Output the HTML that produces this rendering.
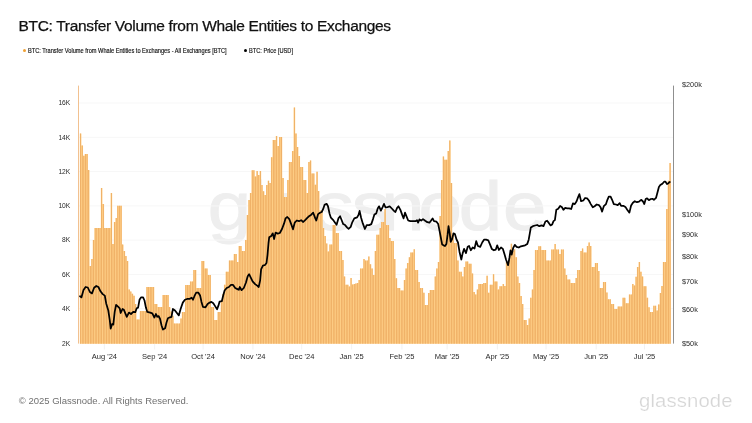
<!DOCTYPE html>
<html lang="en">
<head>
<meta charset="utf-8">
<title>BTC: Transfer Volume from Whale Entities to Exchanges</title>
<style>
html,body{margin:0;padding:0;background:#fff;}
body{width:752px;height:423px;position:relative;overflow:hidden;font-family:"Liberation Sans",sans-serif;}
.chart{position:absolute;left:0;top:0;}
.chart text{font-family:"Liberation Sans",sans-serif;}
.title{position:absolute;left:18.6px;top:15.8px;font-size:15.5px;line-height:20px;color:#111;white-space:nowrap;margin:0;font-weight:normal;letter-spacing:-0.325px;-webkit-text-stroke:0.25px #111;}
.legend{position:absolute;left:0;top:45.7px;height:10px;font-size:6.4px;line-height:10px;color:#111;white-space:nowrap;-webkit-text-stroke:0.15px #111;}
.legend span.item{position:absolute;top:0;transform:scaleX(0.885);transform-origin:0 0;}
.legend i{position:absolute;width:3.6px;height:3.6px;border-radius:50%;top:3.1px;}
.foot{position:absolute;left:18.8px;top:394.2px;font-size:9.5px;line-height:14px;color:#707070;white-space:nowrap;}
.logo{position:absolute;left:639.3px;top:387px;font-size:17.6px;line-height:28px;color:#d6d6d6;-webkit-text-stroke:0.2px #fff;letter-spacing:0.1px;white-space:nowrap;transform:scaleX(1.155);transform-origin:0 0;}
</style>
</head>
<body>
<svg class="chart" width="752" height="423" viewBox="0 0 752 423">
<text class="wm" transform="translate(207.8,230.2) scale(1.13,1)" x="0 36.5 51.5 95 127.3 153.6 186.5 222.1 261.2" y="0" font-size="69" fill="#eeeeee" stroke="#eeeeee" stroke-width="1">glassnode</text>
<g class="grid" stroke="#f7f7f7" stroke-width="1">
<line x1="78" x2="673" y1="103.0" y2="103.0"/>
<line x1="78" x2="673" y1="137.3" y2="137.3"/>
<line x1="78" x2="673" y1="171.6" y2="171.6"/>
<line x1="78" x2="673" y1="205.9" y2="205.9"/>
<line x1="78" x2="673" y1="240.1" y2="240.1"/>
<line x1="78" x2="673" y1="274.4" y2="274.4"/>
<line x1="78" x2="673" y1="308.7" y2="308.7"/>
</g>
<path class="bars-base" fill="#ffd088" d="M79.79 343.8V133.5H81.41V145.5H83.03V155.7H84.65V154.0H86.27V154.0H87.89V170.0H89.51V266.0H91.13V259.0H92.75V240.0H94.37V228.0H95.99V228.0H97.60V228.0H99.22V228.0H100.84V188.0H102.46V204.0H104.08V228.0H105.70V228.0H107.32V228.0H108.94V228.0H110.56V193.0H112.18V244.0H113.80V222.0H115.42V218.0H117.04V205.7H118.66V205.7H120.28V205.7H121.90V244.5H123.52V251.0H125.14V256.0H126.76V261.0H128.38V289.6H129.99V291.6H131.61V293.7H133.23V295.7H134.85V304.0H136.47V319.6H138.09V319.6H139.71V311.0H141.33V311.0H142.95V311.0H144.57V311.0H146.19V287.0H147.81V287.0H149.43V287.0H151.05V287.0H152.67V287.0H154.29V304.0H155.91V304.0H157.53V307.0H159.15V307.0H160.77V307.0H162.38V295.0H164.00V295.0H165.62V295.0H167.24V295.0H168.86V307.1H170.48V311.4H172.10V315.7H173.72V323.4H175.34V323.4H176.96V323.4H178.58V323.4H180.20V318.6H181.82V312.0H183.44V312.0H185.06V285.0H186.68V285.0H188.30V285.0H189.92V281.4H191.54V281.4H193.16V270.0H194.77V270.0H196.39V288.0H198.01V288.0H199.63V288.0H201.25V261.0H202.87V261.0H204.49V268.6H206.11V268.6H207.73V275.0H209.35V275.0H210.97V307.0H212.59V307.0H214.21V320.0H215.83V320.0H217.45V312.0H219.07V312.0H220.69V300.6H222.31V294.0H223.93V284.7H225.55V271.8H227.16V271.8H228.78V260.5H230.40V260.5H232.02V260.5H233.64V254.0H235.26V254.0H236.88V262.0H238.50V246.0H240.12V246.0H241.74V251.0H243.36V251.0H244.98V240.0H246.60V215.0H248.22V200.0H249.84V193.0H251.46V170.2H253.08V170.2H254.70V176.6H256.32V171.0H257.94V175.0H259.55V171.0H261.17V184.9H262.79V191.2H264.41V195.0H266.03V184.9H267.65V180.8H269.27V183.0H270.89V157.3H272.51V140.0H274.13V140.0H275.75V136.0H277.37V146.0H278.99V137.0H280.61V137.0H282.23V178.0H283.85V197.0H285.47V197.0H287.09V180.0H288.71V162.0H290.33V162.0H291.94V151.0H293.56V107.4H295.18V133.4H296.80V147.0H298.42V156.0H300.04V167.0H301.66V167.0H303.28V180.0H304.90V180.0H306.52V193.0H308.14V162.0H309.76V160.5H311.38V173.4H313.00V173.4H314.62V184.7H316.24V171.8H317.86V191.0H319.48V210.5H321.10V210.5H322.72V228.0H324.33V236.0H325.95V243.4H327.57V251.4H329.19V244.5H330.81V244.5H332.43V225.0H334.05V225.0H335.67V233.0H337.29V233.0H338.91V251.0H340.53V251.0H342.15V260.0H343.77V276.6H345.39V284.7H347.01V284.7H348.63V286.4H350.25V278.0H351.87V284.5H353.49V284.0H355.11V283.6H356.72V283.1H358.34V280.0H359.96V268.6H361.58V268.6H363.20V259.0H364.82V260.5H366.44V260.5H368.06V256.5H369.68V264.3H371.30V268.5H372.92V275.0H374.54V251.0H376.16V234.7H377.78V234.7H379.40V228.0H381.02V222.0H382.64V222.0H384.26V209.0H385.88V225.0H387.50V225.0H389.11V238.0H390.73V241.0H392.35V241.0H393.97V259.0H395.59V278.2H397.21V288.0H398.83V288.0H400.45V290.4H402.07V290.4H403.69V280.0H405.31V268.5H406.93V262.9H408.55V257.3H410.17V252.5H411.79V252.5H413.41V249.3H415.03V270.0H416.65V270.0H418.27V282.0H419.89V288.0H421.50V288.0H423.12V292.8H424.74V305.0H426.36V305.0H427.98V293.0H429.60V290.0H431.22V290.0H432.84V290.0H434.46V276.6H436.08V268.6H437.70V262.0H439.32V216.0H440.94V180.0H442.56V156.5H444.18V159.7H445.80V159.7H447.42V151.0H449.04V140.5H450.66V183.0H452.28V235.0H453.89V243.0H455.51V243.0H457.13V260.5H458.75V271.8H460.37V271.8H461.99V276.6H463.61V267.0H465.23V261.4H466.85V261.4H468.47V263.8H470.09V263.8H471.71V273.4H473.33V292.1H474.95V294.4H476.57V289.5H478.19V284.0H479.81V284.0H481.43V284.0H483.05V283.0H484.67V283.0H486.28V275.8H487.90V292.7H489.52V284.7H491.14V284.7H492.76V274.2H494.38V281.4H496.00V281.4H497.62V289.5H499.24V286.3H500.86V286.3H502.48V284.0H504.10V286.0H505.72V262.0H507.34V262.0H508.96V254.0H510.58V243.7H512.20V251.0H513.82V249.3H515.44V257.3H517.06V276.6H518.67V283.0H520.29V296.0H521.91V304.0H523.53V320.0H525.15V320.0H526.77V325.0H528.39V318.6H530.01V297.7H531.63V289.5H533.25V270.0H534.87V250.0H536.49V250.0H538.11V246.3H539.73V246.3H541.35V250.0H542.97V250.0H544.59V250.0H546.21V260.5H547.83V260.5H549.45V260.5H551.06V249.5H552.68V249.5H554.30V244.0H555.92V249.5H557.54V249.5H559.16V254.0H560.78V249.5H562.40V249.5H564.02V268.6H565.64V275.0H567.26V279.5H568.88V279.5H570.50V283.0H572.12V283.0H573.74V283.0H575.36V278.0H576.98V270.0H578.60V270.0H580.22V251.0H581.84V248.5H583.45V252.5H585.07V252.5H586.69V246.0H588.31V242.5H589.93V246.0H591.55V267.0H593.17V267.0H594.79V263.0H596.41V263.0H598.03V271.0H599.65V288.0H601.27V288.0H602.89V282.0H604.51V282.0H606.13V292.6H607.75V299.3H609.37V299.3H610.99V304.0H612.61V304.0H614.23V309.0H615.84V309.0H617.46V306.5H619.08V306.5H620.70V306.5H622.32V297.7H623.94V297.7H625.56V303.3H627.18V303.3H628.80V294.4H630.42V294.4H632.04V284.0H633.66V285.5H635.28V276.7H636.90V267.0H638.52V262.0H640.14V271.8H641.76V276.6H643.38V286.3H645.00V286.3H646.62V297.7H648.23V307.3H649.85V312.0H651.47V312.0H653.09V305.7H654.71V305.7H656.33V310.6H657.95V304.5H659.57V293.0H661.19V286.0H662.81V262.0H664.43V262.0H666.05V209.0H667.67V180.7H669.29V163.0H670.91V343.8z"/>
<path class="bars" fill="#eaa55b" d="M80.25 343.8V133.5h0.70V343.8zM81.87 343.8V145.5h0.70V343.8zM83.49 343.8V155.7h0.70V343.8zM85.11 343.8V154.0h0.70V343.8zM86.73 343.8V154.0h0.70V343.8zM88.35 343.8V170.0h0.70V343.8zM89.97 343.8V266.0h0.70V343.8zM91.59 343.8V259.0h0.70V343.8zM93.21 343.8V240.0h0.70V343.8zM94.83 343.8V228.0h0.70V343.8zM96.44 343.8V228.0h0.70V343.8zM98.06 343.8V228.0h0.70V343.8zM99.68 343.8V228.0h0.70V343.8zM101.30 343.8V188.0h0.70V343.8zM102.92 343.8V204.0h0.70V343.8zM104.54 343.8V228.0h0.70V343.8zM106.16 343.8V228.0h0.70V343.8zM107.78 343.8V228.0h0.70V343.8zM109.40 343.8V228.0h0.70V343.8zM111.02 343.8V193.0h0.70V343.8zM112.64 343.8V244.0h0.70V343.8zM114.26 343.8V222.0h0.70V343.8zM115.88 343.8V218.0h0.70V343.8zM117.50 343.8V205.7h0.70V343.8zM119.12 343.8V205.7h0.70V343.8zM120.74 343.8V205.7h0.70V343.8zM122.36 343.8V244.5h0.70V343.8zM123.98 343.8V251.0h0.70V343.8zM125.60 343.8V256.0h0.70V343.8zM127.22 343.8V261.0h0.70V343.8zM128.84 343.8V289.6h0.70V343.8zM130.45 343.8V291.6h0.70V343.8zM132.07 343.8V293.7h0.70V343.8zM133.69 343.8V295.7h0.70V343.8zM135.31 343.8V304.0h0.70V343.8zM136.93 343.8V319.6h0.70V343.8zM138.55 343.8V319.6h0.70V343.8zM140.17 343.8V311.0h0.70V343.8zM141.79 343.8V311.0h0.70V343.8zM143.41 343.8V311.0h0.70V343.8zM145.03 343.8V311.0h0.70V343.8zM146.65 343.8V287.0h0.70V343.8zM148.27 343.8V287.0h0.70V343.8zM149.89 343.8V287.0h0.70V343.8zM151.51 343.8V287.0h0.70V343.8zM153.13 343.8V287.0h0.70V343.8zM154.75 343.8V304.0h0.70V343.8zM156.37 343.8V304.0h0.70V343.8zM157.99 343.8V307.0h0.70V343.8zM159.61 343.8V307.0h0.70V343.8zM161.22 343.8V307.0h0.70V343.8zM162.84 343.8V295.0h0.70V343.8zM164.46 343.8V295.0h0.70V343.8zM166.08 343.8V295.0h0.70V343.8zM167.70 343.8V295.0h0.70V343.8zM169.32 343.8V307.1h0.70V343.8zM170.94 343.8V311.4h0.70V343.8zM172.56 343.8V315.7h0.70V343.8zM174.18 343.8V323.4h0.70V343.8zM175.80 343.8V323.4h0.70V343.8zM177.42 343.8V323.4h0.70V343.8zM179.04 343.8V323.4h0.70V343.8zM180.66 343.8V318.6h0.70V343.8zM182.28 343.8V312.0h0.70V343.8zM183.90 343.8V312.0h0.70V343.8zM185.52 343.8V285.0h0.70V343.8zM187.14 343.8V285.0h0.70V343.8zM188.76 343.8V285.0h0.70V343.8zM190.38 343.8V281.4h0.70V343.8zM192.00 343.8V281.4h0.70V343.8zM193.61 343.8V270.0h0.70V343.8zM195.23 343.8V270.0h0.70V343.8zM196.85 343.8V288.0h0.70V343.8zM198.47 343.8V288.0h0.70V343.8zM200.09 343.8V288.0h0.70V343.8zM201.71 343.8V261.0h0.70V343.8zM203.33 343.8V261.0h0.70V343.8zM204.95 343.8V268.6h0.70V343.8zM206.57 343.8V268.6h0.70V343.8zM208.19 343.8V275.0h0.70V343.8zM209.81 343.8V275.0h0.70V343.8zM211.43 343.8V307.0h0.70V343.8zM213.05 343.8V307.0h0.70V343.8zM214.67 343.8V320.0h0.70V343.8zM216.29 343.8V320.0h0.70V343.8zM217.91 343.8V312.0h0.70V343.8zM219.53 343.8V312.0h0.70V343.8zM221.15 343.8V300.6h0.70V343.8zM222.77 343.8V294.0h0.70V343.8zM224.39 343.8V284.7h0.70V343.8zM226.00 343.8V271.8h0.70V343.8zM227.62 343.8V271.8h0.70V343.8zM229.24 343.8V260.5h0.70V343.8zM230.86 343.8V260.5h0.70V343.8zM232.48 343.8V260.5h0.70V343.8zM234.10 343.8V254.0h0.70V343.8zM235.72 343.8V254.0h0.70V343.8zM237.34 343.8V262.0h0.70V343.8zM238.96 343.8V246.0h0.70V343.8zM240.58 343.8V246.0h0.70V343.8zM242.20 343.8V251.0h0.70V343.8zM243.82 343.8V251.0h0.70V343.8zM245.44 343.8V240.0h0.70V343.8zM247.06 343.8V215.0h0.70V343.8zM248.68 343.8V200.0h0.70V343.8zM250.30 343.8V193.0h0.70V343.8zM251.92 343.8V170.2h0.70V343.8zM253.54 343.8V170.2h0.70V343.8zM255.16 343.8V176.6h0.70V343.8zM256.78 343.8V171.0h0.70V343.8zM258.39 343.8V175.0h0.70V343.8zM260.01 343.8V171.0h0.70V343.8zM261.63 343.8V184.9h0.70V343.8zM263.25 343.8V191.2h0.70V343.8zM264.87 343.8V195.0h0.70V343.8zM266.49 343.8V184.9h0.70V343.8zM268.11 343.8V180.8h0.70V343.8zM269.73 343.8V183.0h0.70V343.8zM271.35 343.8V157.3h0.70V343.8zM272.97 343.8V140.0h0.70V343.8zM274.59 343.8V140.0h0.70V343.8zM276.21 343.8V136.0h0.70V343.8zM277.83 343.8V146.0h0.70V343.8zM279.45 343.8V137.0h0.70V343.8zM281.07 343.8V137.0h0.70V343.8zM282.69 343.8V178.0h0.70V343.8zM284.31 343.8V197.0h0.70V343.8zM285.93 343.8V197.0h0.70V343.8zM287.55 343.8V180.0h0.70V343.8zM289.17 343.8V162.0h0.70V343.8zM290.78 343.8V162.0h0.70V343.8zM292.40 343.8V151.0h0.70V343.8zM294.02 343.8V107.4h0.70V343.8zM295.64 343.8V133.4h0.70V343.8zM297.26 343.8V147.0h0.70V343.8zM298.88 343.8V156.0h0.70V343.8zM300.50 343.8V167.0h0.70V343.8zM302.12 343.8V167.0h0.70V343.8zM303.74 343.8V180.0h0.70V343.8zM305.36 343.8V180.0h0.70V343.8zM306.98 343.8V193.0h0.70V343.8zM308.60 343.8V162.0h0.70V343.8zM310.22 343.8V160.5h0.70V343.8zM311.84 343.8V173.4h0.70V343.8zM313.46 343.8V173.4h0.70V343.8zM315.08 343.8V184.7h0.70V343.8zM316.70 343.8V171.8h0.70V343.8zM318.32 343.8V191.0h0.70V343.8zM319.94 343.8V210.5h0.70V343.8zM321.56 343.8V210.5h0.70V343.8zM323.17 343.8V228.0h0.70V343.8zM324.79 343.8V236.0h0.70V343.8zM326.41 343.8V243.4h0.70V343.8zM328.03 343.8V251.4h0.70V343.8zM329.65 343.8V244.5h0.70V343.8zM331.27 343.8V244.5h0.70V343.8zM332.89 343.8V225.0h0.70V343.8zM334.51 343.8V225.0h0.70V343.8zM336.13 343.8V233.0h0.70V343.8zM337.75 343.8V233.0h0.70V343.8zM339.37 343.8V251.0h0.70V343.8zM340.99 343.8V251.0h0.70V343.8zM342.61 343.8V260.0h0.70V343.8zM344.23 343.8V276.6h0.70V343.8zM345.85 343.8V284.7h0.70V343.8zM347.47 343.8V284.7h0.70V343.8zM349.09 343.8V286.4h0.70V343.8zM350.71 343.8V278.0h0.70V343.8zM352.33 343.8V284.5h0.70V343.8zM353.95 343.8V284.0h0.70V343.8zM355.56 343.8V283.6h0.70V343.8zM357.18 343.8V283.1h0.70V343.8zM358.80 343.8V280.0h0.70V343.8zM360.42 343.8V268.6h0.70V343.8zM362.04 343.8V268.6h0.70V343.8zM363.66 343.8V259.0h0.70V343.8zM365.28 343.8V260.5h0.70V343.8zM366.90 343.8V260.5h0.70V343.8zM368.52 343.8V256.5h0.70V343.8zM370.14 343.8V264.3h0.70V343.8zM371.76 343.8V268.5h0.70V343.8zM373.38 343.8V275.0h0.70V343.8zM375.00 343.8V251.0h0.70V343.8zM376.62 343.8V234.7h0.70V343.8zM378.24 343.8V234.7h0.70V343.8zM379.86 343.8V228.0h0.70V343.8zM381.48 343.8V222.0h0.70V343.8zM383.10 343.8V222.0h0.70V343.8zM384.72 343.8V209.0h0.70V343.8zM386.34 343.8V225.0h0.70V343.8zM387.95 343.8V225.0h0.70V343.8zM389.57 343.8V238.0h0.70V343.8zM391.19 343.8V241.0h0.70V343.8zM392.81 343.8V241.0h0.70V343.8zM394.43 343.8V259.0h0.70V343.8zM396.05 343.8V278.2h0.70V343.8zM397.67 343.8V288.0h0.70V343.8zM399.29 343.8V288.0h0.70V343.8zM400.91 343.8V290.4h0.70V343.8zM402.53 343.8V290.4h0.70V343.8zM404.15 343.8V280.0h0.70V343.8zM405.77 343.8V268.5h0.70V343.8zM407.39 343.8V262.9h0.70V343.8zM409.01 343.8V257.3h0.70V343.8zM410.63 343.8V252.5h0.70V343.8zM412.25 343.8V252.5h0.70V343.8zM413.87 343.8V249.3h0.70V343.8zM415.49 343.8V270.0h0.70V343.8zM417.11 343.8V270.0h0.70V343.8zM418.73 343.8V282.0h0.70V343.8zM420.34 343.8V288.0h0.70V343.8zM421.96 343.8V288.0h0.70V343.8zM423.58 343.8V292.8h0.70V343.8zM425.20 343.8V305.0h0.70V343.8zM426.82 343.8V305.0h0.70V343.8zM428.44 343.8V293.0h0.70V343.8zM430.06 343.8V290.0h0.70V343.8zM431.68 343.8V290.0h0.70V343.8zM433.30 343.8V290.0h0.70V343.8zM434.92 343.8V276.6h0.70V343.8zM436.54 343.8V268.6h0.70V343.8zM438.16 343.8V262.0h0.70V343.8zM439.78 343.8V216.0h0.70V343.8zM441.40 343.8V180.0h0.70V343.8zM443.02 343.8V156.5h0.70V343.8zM444.64 343.8V159.7h0.70V343.8zM446.26 343.8V159.7h0.70V343.8zM447.88 343.8V151.0h0.70V343.8zM449.50 343.8V140.5h0.70V343.8zM451.12 343.8V183.0h0.70V343.8zM452.74 343.8V235.0h0.70V343.8zM454.35 343.8V243.0h0.70V343.8zM455.97 343.8V243.0h0.70V343.8zM457.59 343.8V260.5h0.70V343.8zM459.21 343.8V271.8h0.70V343.8zM460.83 343.8V271.8h0.70V343.8zM462.45 343.8V276.6h0.70V343.8zM464.07 343.8V267.0h0.70V343.8zM465.69 343.8V261.4h0.70V343.8zM467.31 343.8V261.4h0.70V343.8zM468.93 343.8V263.8h0.70V343.8zM470.55 343.8V263.8h0.70V343.8zM472.17 343.8V273.4h0.70V343.8zM473.79 343.8V292.1h0.70V343.8zM475.41 343.8V294.4h0.70V343.8zM477.03 343.8V289.5h0.70V343.8zM478.65 343.8V284.0h0.70V343.8zM480.27 343.8V284.0h0.70V343.8zM481.89 343.8V284.0h0.70V343.8zM483.51 343.8V283.0h0.70V343.8zM485.12 343.8V283.0h0.70V343.8zM486.74 343.8V275.8h0.70V343.8zM488.36 343.8V292.7h0.70V343.8zM489.98 343.8V284.7h0.70V343.8zM491.60 343.8V284.7h0.70V343.8zM493.22 343.8V274.2h0.70V343.8zM494.84 343.8V281.4h0.70V343.8zM496.46 343.8V281.4h0.70V343.8zM498.08 343.8V289.5h0.70V343.8zM499.70 343.8V286.3h0.70V343.8zM501.32 343.8V286.3h0.70V343.8zM502.94 343.8V284.0h0.70V343.8zM504.56 343.8V286.0h0.70V343.8zM506.18 343.8V262.0h0.70V343.8zM507.80 343.8V262.0h0.70V343.8zM509.42 343.8V254.0h0.70V343.8zM511.04 343.8V243.7h0.70V343.8zM512.66 343.8V251.0h0.70V343.8zM514.28 343.8V249.3h0.70V343.8zM515.90 343.8V257.3h0.70V343.8zM517.51 343.8V276.6h0.70V343.8zM519.13 343.8V283.0h0.70V343.8zM520.75 343.8V296.0h0.70V343.8zM522.37 343.8V304.0h0.70V343.8zM523.99 343.8V320.0h0.70V343.8zM525.61 343.8V320.0h0.70V343.8zM527.23 343.8V325.0h0.70V343.8zM528.85 343.8V318.6h0.70V343.8zM530.47 343.8V297.7h0.70V343.8zM532.09 343.8V289.5h0.70V343.8zM533.71 343.8V270.0h0.70V343.8zM535.33 343.8V250.0h0.70V343.8zM536.95 343.8V250.0h0.70V343.8zM538.57 343.8V246.3h0.70V343.8zM540.19 343.8V246.3h0.70V343.8zM541.81 343.8V250.0h0.70V343.8zM543.43 343.8V250.0h0.70V343.8zM545.05 343.8V250.0h0.70V343.8zM546.67 343.8V260.5h0.70V343.8zM548.29 343.8V260.5h0.70V343.8zM549.90 343.8V260.5h0.70V343.8zM551.52 343.8V249.5h0.70V343.8zM553.14 343.8V249.5h0.70V343.8zM554.76 343.8V244.0h0.70V343.8zM556.38 343.8V249.5h0.70V343.8zM558.00 343.8V249.5h0.70V343.8zM559.62 343.8V254.0h0.70V343.8zM561.24 343.8V249.5h0.70V343.8zM562.86 343.8V249.5h0.70V343.8zM564.48 343.8V268.6h0.70V343.8zM566.10 343.8V275.0h0.70V343.8zM567.72 343.8V279.5h0.70V343.8zM569.34 343.8V279.5h0.70V343.8zM570.96 343.8V283.0h0.70V343.8zM572.58 343.8V283.0h0.70V343.8zM574.20 343.8V283.0h0.70V343.8zM575.82 343.8V278.0h0.70V343.8zM577.44 343.8V270.0h0.70V343.8zM579.06 343.8V270.0h0.70V343.8zM580.68 343.8V251.0h0.70V343.8zM582.29 343.8V248.5h0.70V343.8zM583.91 343.8V252.5h0.70V343.8zM585.53 343.8V252.5h0.70V343.8zM587.15 343.8V246.0h0.70V343.8zM588.77 343.8V242.5h0.70V343.8zM590.39 343.8V246.0h0.70V343.8zM592.01 343.8V267.0h0.70V343.8zM593.63 343.8V267.0h0.70V343.8zM595.25 343.8V263.0h0.70V343.8zM596.87 343.8V263.0h0.70V343.8zM598.49 343.8V271.0h0.70V343.8zM600.11 343.8V288.0h0.70V343.8zM601.73 343.8V288.0h0.70V343.8zM603.35 343.8V282.0h0.70V343.8zM604.97 343.8V282.0h0.70V343.8zM606.59 343.8V292.6h0.70V343.8zM608.21 343.8V299.3h0.70V343.8zM609.83 343.8V299.3h0.70V343.8zM611.45 343.8V304.0h0.70V343.8zM613.07 343.8V304.0h0.70V343.8zM614.68 343.8V309.0h0.70V343.8zM616.30 343.8V309.0h0.70V343.8zM617.92 343.8V306.5h0.70V343.8zM619.54 343.8V306.5h0.70V343.8zM621.16 343.8V306.5h0.70V343.8zM622.78 343.8V297.7h0.70V343.8zM624.40 343.8V297.7h0.70V343.8zM626.02 343.8V303.3h0.70V343.8zM627.64 343.8V303.3h0.70V343.8zM629.26 343.8V294.4h0.70V343.8zM630.88 343.8V294.4h0.70V343.8zM632.50 343.8V284.0h0.70V343.8zM634.12 343.8V285.5h0.70V343.8zM635.74 343.8V276.7h0.70V343.8zM637.36 343.8V267.0h0.70V343.8zM638.98 343.8V262.0h0.70V343.8zM640.60 343.8V271.8h0.70V343.8zM642.22 343.8V276.6h0.70V343.8zM643.84 343.8V286.3h0.70V343.8zM645.46 343.8V286.3h0.70V343.8zM647.07 343.8V297.7h0.70V343.8zM648.69 343.8V307.3h0.70V343.8zM650.31 343.8V312.0h0.70V343.8zM651.93 343.8V312.0h0.70V343.8zM653.55 343.8V305.7h0.70V343.8zM655.17 343.8V305.7h0.70V343.8zM656.79 343.8V310.6h0.70V343.8zM658.41 343.8V304.5h0.70V343.8zM660.03 343.8V293.0h0.70V343.8zM661.65 343.8V286.0h0.70V343.8zM663.27 343.8V262.0h0.70V343.8zM664.89 343.8V262.0h0.70V343.8zM666.51 343.8V209.0h0.70V343.8zM668.13 343.8V180.7h0.70V343.8zM669.75 343.8V163.0h0.70V343.8z"/>
<g class="ticks" stroke="#efefef" stroke-width="0.8">
<line x1="104.4" x2="104.4" y1="344" y2="349.5"/>
<line x1="154.6" x2="154.6" y1="344" y2="349.5"/>
<line x1="203.1" x2="203.1" y1="344" y2="349.5"/>
<line x1="252.9" x2="252.9" y1="344" y2="349.5"/>
<line x1="301.7" x2="301.7" y1="344" y2="349.5"/>
<line x1="351.6" x2="351.6" y1="344" y2="349.5"/>
<line x1="401.9" x2="401.9" y1="344" y2="349.5"/>
<line x1="447.1" x2="447.1" y1="344" y2="349.5"/>
<line x1="497.4" x2="497.4" y1="344" y2="349.5"/>
<line x1="546.0" x2="546.0" y1="344" y2="349.5"/>
<line x1="596.2" x2="596.2" y1="344" y2="349.5"/>
<line x1="644.5" x2="644.5" y1="344" y2="349.5"/>
</g>
<line class="laxis" x1="78.5" x2="78.5" y1="85.6" y2="343.6" stroke="#f2c190" stroke-width="1"/>
<line class="raxis" x1="673.5" x2="673.5" y1="85.6" y2="343.6" stroke="#8f8f8f" stroke-width="1"/>
<path class="price" fill="none" stroke="#000" stroke-width="1.75" stroke-linejoin="round" stroke-linecap="round" d="M80.0 296.3 L81.4 297.4 L83.5 289.9 L85.6 287.0 L87.8 287.5 L89.9 292.0 L92.0 293.4 L94.1 287.8 L96.3 286.0 L98.4 287.0 L100.5 291.3 L102.7 294.1 L104.8 295.6 L106.2 303.4 L108.3 310.5 L109.8 320.4 L110.7 328.6 L112.2 324.0 L113.3 324.6 L114.7 311.9 L116.1 304.8 L118.3 306.9 L119.7 308.3 L120.7 313.0 L122.5 309.0 L123.9 309.8 L126.8 316.8 L128.9 312.6 L131.0 314.0 L133.2 311.9 L135.3 312.2 L136.7 308.3 L138.1 307.6 L139.5 299.8 L141.0 297.4 L143.1 297.4 L144.5 300.5 L145.9 307.6 L147.3 311.9 L150.2 312.6 L152.3 313.3 L154.4 317.5 L155.9 314.0 L157.3 316.8 L158.7 316.1 L160.1 319.0 L161.5 325.3 L162.9 329.6 L165.1 328.2 L166.5 322.5 L167.9 318.3 L170.0 317.3 L171.5 316.8 L172.9 309.0 L175.0 310.4 L177.1 313.2 L178.8 315.4 L180.6 309.0 L182.8 302.6 L184.9 299.8 L187.7 298.8 L189.9 298.8 L191.6 297.6 L193.0 299.8 L194.4 296.2 L196.2 292.7 L198.4 292.7 L200.1 295.5 L201.5 301.9 L202.9 306.8 L205.5 307.3 L207.6 304.0 L209.7 302.6 L211.4 301.9 L213.3 303.3 L215.1 306.1 L217.1 309.3 L218.5 305.4 L219.6 301.6 L221.8 301.2 L223.2 295.5 L224.6 290.5 L226.7 288.0 L228.9 287.0 L231.0 284.9 L233.1 284.9 L235.2 288.0 L237.4 289.1 L238.8 289.8 L239.8 287.0 L241.6 290.2 L243.8 288.0 L245.9 282.7 L247.7 276.3 L249.1 274.2 L250.9 277.8 L252.6 281.3 L255.1 284.1 L257.2 285.6 L258.7 287.0 L260.1 280.6 L261.1 269.3 L262.9 265.7 L265.0 265.0 L266.5 263.0 L267.5 255.0 L268.5 243.2 L269.2 237.3 L271.3 235.9 L272.7 233.3 L274.1 239.0 L275.6 232.6 L277.7 233.6 L279.8 233.0 L282.0 229.0 L284.1 223.4 L285.5 218.4 L287.3 217.0 L289.3 219.1 L291.2 224.1 L293.0 229.3 L294.7 222.7 L296.8 220.5 L299.0 221.2 L301.1 220.2 L303.2 222.0 L305.4 219.8 L307.5 217.7 L308.9 216.3 L311.0 214.9 L313.2 212.7 L315.3 218.4 L316.3 220.5 L318.1 214.1 L320.0 212.7 L321.7 212.0 L323.1 209.2 L324.5 204.9 L326.6 203.8 L328.0 206.3 L329.5 213.4 L330.9 217.7 L333.0 219.8 L335.1 222.7 L336.6 224.8 L338.4 218.4 L340.1 216.3 L341.5 219.8 L343.2 224.1 L345.1 225.1 L347.2 227.6 L348.6 228.8 L350.7 226.9 L352.1 222.7 L354.3 218.4 L357.1 217.4 L358.5 214.9 L359.6 210.9 L361.1 217.7 L362.8 223.4 L364.9 229.0 L366.7 225.1 L369.1 225.1 L371.3 224.1 L373.0 219.1 L374.4 214.6 L376.2 213.4 L377.7 208.5 L379.1 206.3 L380.9 210.6 L382.6 207.1 L384.0 203.8 L385.5 207.5 L387.6 207.1 L389.7 206.3 L391.8 208.5 L394.0 210.9 L395.4 212.0 L397.1 207.8 L398.5 206.3 L400.4 209.9 L402.2 214.9 L403.6 218.4 L405.0 212.7 L406.5 216.3 L408.2 220.5 L410.3 221.2 L413.1 221.2 L415.5 221.2 L417.0 220.2 L418.1 222.7 L419.5 219.4 L421.2 220.5 L423.0 219.1 L425.2 220.8 L427.3 222.2 L429.4 222.7 L431.1 220.5 L432.6 218.4 L434.0 221.2 L436.5 221.7 L438.2 224.1 L439.6 231.2 L441.1 239.0 L442.2 244.6 L444.3 245.8 L445.0 246.0 L446.4 243.9 L447.6 234.7 L448.5 226.2 L449.7 233.3 L450.7 241.8 L452.1 239.0 L453.5 233.3 L454.9 234.0 L456.6 239.7 L458.0 242.5 L459.5 251.7 L461.3 259.5 L462.7 253.1 L464.1 248.9 L466.0 253.1 L467.7 246.8 L469.1 246.0 L470.8 250.3 L472.7 247.5 L474.5 248.6 L476.2 241.1 L477.9 246.0 L480.2 246.8 L482.2 242.5 L484.0 239.7 L486.1 239.7 L488.3 240.4 L490.1 244.6 L491.8 248.9 L493.9 250.3 L495.8 249.6 L497.2 245.3 L498.9 250.0 L501.0 247.5 L502.9 248.9 L504.6 254.6 L506.0 259.5 L508.1 265.2 L509.5 257.4 L510.5 250.3 L511.7 254.6 L513.1 248.2 L514.8 244.9 L516.6 246.8 L518.8 247.5 L520.9 246.3 L523.0 245.8 L525.1 245.3 L527.3 243.9 L528.7 239.7 L529.8 233.3 L530.8 227.6 L532.9 226.2 L535.1 225.5 L537.2 225.0 L539.3 226.2 L541.7 225.4 L543.5 226.1 L545.4 221.5 L547.1 220.7 L548.8 222.9 L550.6 225.4 L552.1 224.6 L553.5 221.1 L554.9 220.1 L556.3 209.8 L558.2 208.8 L560.1 205.9 L562.0 207.3 L563.4 209.8 L565.2 207.9 L567.2 208.3 L569.1 208.3 L571.2 209.0 L572.9 203.4 L574.8 204.1 L576.6 201.2 L578.0 197.4 L579.4 194.1 L581.1 201.2 L583.3 200.5 L585.1 198.0 L587.1 198.4 L588.9 200.5 L590.8 204.1 L592.8 207.3 L594.6 206.2 L596.7 204.5 L598.9 205.1 L600.7 207.6 L602.1 211.6 L603.8 206.2 L606.0 204.1 L607.4 199.8 L608.8 196.6 L610.6 196.6 L612.1 199.8 L613.8 204.1 L615.9 204.5 L617.7 205.1 L619.7 203.1 L621.1 205.9 L623.7 205.9 L625.4 206.9 L627.2 209.8 L629.4 212.6 L631.1 205.5 L632.9 202.7 L634.8 201.2 L636.9 202.2 L639.0 201.6 L641.1 199.8 L642.8 201.2 L644.3 204.0 L645.7 199.0 L647.1 198.3 L648.9 200.2 L650.8 199.0 L652.5 198.8 L653.9 199.8 L656.0 197.9 L657.4 192.7 L658.9 187.0 L660.3 185.1 L662.4 183.7 L664.1 181.7 L665.5 181.7 L667.0 184.1 L668.4 183.2 L669.8 182.0"/>
<g class="yl" font-size="6.7" fill="#2a2a2a" text-anchor="end">
<text x="70.3" y="105.2">16K</text>
<text x="70.3" y="139.5">14K</text>
<text x="70.3" y="173.8">12K</text>
<text x="70.3" y="208.1">10K</text>
<text x="70.3" y="242.4">8K</text>
<text x="70.3" y="276.7">6K</text>
<text x="70.3" y="311.0">4K</text>
<text x="70.3" y="346.2">2K</text>
</g>
<g class="yr" font-size="7.3" fill="#2a2a2a">
<text x="682" y="87.3">$200k</text>
<text x="682" y="217.2">$100k</text>
<text x="682" y="236.8">$90k</text>
<text x="682" y="258.7">$80k</text>
<text x="682" y="283.5">$70k</text>
<text x="682" y="312.1">$60k</text>
<text x="682" y="346.0">$50k</text>
</g>
<g class="xl" font-size="7.55" fill="#2a2a2a" text-anchor="middle">
<text x="104.4" y="359.3">Aug '24</text>
<text x="154.6" y="359.3">Sep '24</text>
<text x="203.1" y="359.3">Oct '24</text>
<text x="252.9" y="359.3">Nov '24</text>
<text x="301.7" y="359.3">Dec '24</text>
<text x="351.6" y="359.3">Jan '25</text>
<text x="401.9" y="359.3">Feb '25</text>
<text x="447.1" y="359.3">Mar '25</text>
<text x="497.4" y="359.3">Apr '25</text>
<text x="546.0" y="359.3">May '25</text>
<text x="596.2" y="359.3">Jun '25</text>
<text x="644.5" y="359.3">Jul '25</text>
</g>
</svg>
<h1 class="title">BTC: Transfer Volume from Whale Entities to Exchanges</h1>
<div class="legend">
<i style="left:22.6px;background:#f0a033"></i><span class="item" style="left:28.4px">BTC: Transfer Volume from Whale Entities to Exchanges - All Exchanges [BTC]</span>
<i style="left:243.6px;background:#000"></i><span class="item" style="left:249.2px">BTC: Price [USD]</span>
</div>
<div class="foot">© 2025 Glassnode. All Rights Reserved.</div>
<div class="logo">glassnode</div>
</body>
</html>
